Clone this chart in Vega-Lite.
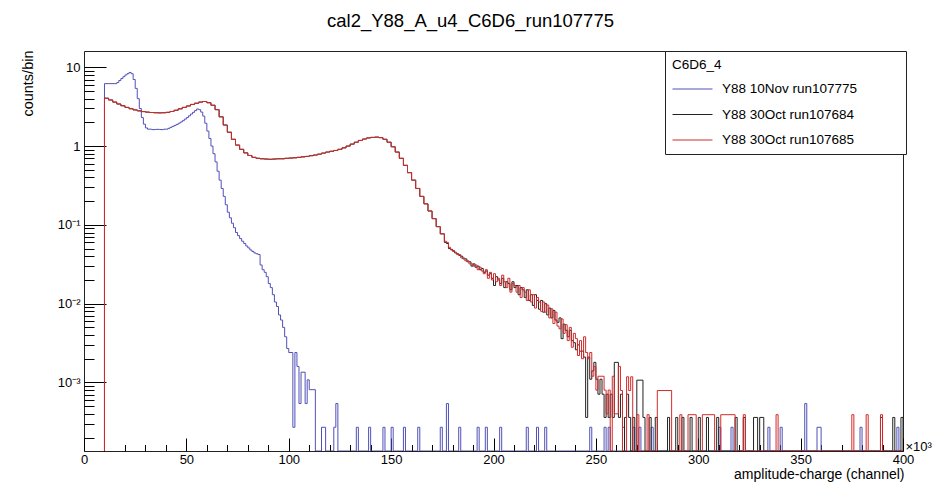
{
 "$schema": "https://vega.github.io/schema/vega-lite/v6.json",
 "width": 819, "height": 400,
 "autosize": {"type": "none"},
 "padding": {"left": 84, "top": 51, "right": 38, "bottom": 36},
 "background": "white",
 "title": {"text": "cal2_Y88_A_u4_C6D6_run107775", "fontSize": 18.5, "font": "Liberation Sans", "fontWeight": "normal", "anchor": "middle", "dx": -23, "offset": 20, "color": "#000"},
 "config": {
  "view": {"stroke": "#222", "strokeWidth": 1},
  "font": "Liberation Sans",
  "axis": {"grid": false, "domain": false, "labelFont": "Liberation Sans", "titleFont": "Liberation Sans", "labelColor": "#000", "titleColor": "#000", "tickColor": "#000", "titleFontWeight": "normal"}
 },
 "datasets": {
  "blue": [
   {"x":10,"y":0},{"x":10,"y":6.2},{"x":16,"y":6.4},{"x":17,"y":6.8},{"x":18,"y":7.2},{"x":19,"y":7.6},{"x":20,"y":8.0},{"x":21,"y":8.3},{"x":22,"y":8.6},{"x":23,"y":8.3},{"x":24,"y":7.0},{"x":25,"y":5.4},{"x":26,"y":4.0},{"x":27,"y":3.0},{"x":28,"y":2.3},{"x":29,"y":1.9},{"x":30,"y":1.7},{"x":31,"y":1.64},{"x":33,"y":1.62},{"x":35,"y":1.63},{"x":37,"y":1.62},{"x":39,"y":1.64},{"x":41,"y":1.68},{"x":42,"y":1.73},{"x":43,"y":1.78},{"x":44,"y":1.83},{"x":45,"y":1.88},{"x":46,"y":1.95},{"x":47,"y":2.02},{"x":48,"y":2.1},{"x":49,"y":2.2},{"x":50,"y":2.3},{"x":51,"y":2.42},{"x":52,"y":2.55},{"x":53,"y":2.68},{"x":54,"y":2.82},{"x":55,"y":2.96},{"x":56,"y":2.9},{"x":57,"y":2.7},{"x":58,"y":2.4},{"x":59,"y":1.95},{"x":60,"y":1.55},{"x":61,"y":1.25},{"x":62,"y":1.0},{"x":63,"y":0.8},{"x":64,"y":0.63},{"x":65,"y":0.48},{"x":66,"y":0.37},{"x":67,"y":0.29},{"x":68,"y":0.23},{"x":69,"y":0.18},{"x":70,"y":0.145},{"x":71,"y":0.123},{"x":72,"y":0.105},{"x":73,"y":0.092},{"x":74,"y":0.08},{"x":75,"y":0.073},{"x":76,"y":0.067},{"x":77,"y":0.062},{"x":78,"y":0.058},{"x":79,"y":0.054},{"x":80,"y":0.051},{"x":81,"y":0.048},{"x":82,"y":0.046},{"x":83,"y":0.044},{"x":84,"y":0.043},{"x":85,"y":0.042},{"x":86,"y":0.031},{"x":87,"y":0.027},{"x":88,"y":0.025},{"x":89,"y":0.022},{"x":90,"y":0.018},{"x":91,"y":0.016},{"x":92,"y":0.013},{"x":93,"y":0.0105},{"x":94,"y":0.0092},{"x":95,"y":0.0072},{"x":96,"y":0.0062},{"x":97,"y":0.005},{"x":98,"y":0.0038},{"x":99,"y":0.0027},{"x":100,"y":0.0024},{"x":102,"y":0.00027},{"x":103,"y":0.0024},{"x":104,"y":0.0016},{"x":105,"y":0.00054},{"x":106,"y":0.00135},{"x":108,"y":0.00054},{"x":109,"y":0.00108},{"x":110,"y":0.00081},{"x":113,"y":0},{"x":116,"y":0.00027},{"x":118,"y":0},{"x":122,"y":0.00027},{"x":123,"y":0.00054},{"x":124,"y":0},{"x":133,"y":0.00027},{"x":134,"y":0},{"x":139,"y":0.00027},{"x":140,"y":0},{"x":146,"y":0.00027},{"x":147,"y":0},{"x":150,"y":0.00027},{"x":151,"y":0},{"x":156,"y":0.00027},{"x":157,"y":0},{"x":163,"y":0.00027},{"x":164,"y":0},{"x":174,"y":0.00027},{"x":175,"y":0},{"x":177,"y":0.00054},{"x":178,"y":0},{"x":183,"y":0.00027},{"x":184,"y":0},{"x":192,"y":0.00027},{"x":193,"y":0},{"x":196,"y":0.00027},{"x":197,"y":0},{"x":203,"y":0.00027},{"x":204,"y":0},{"x":216,"y":0.00027},{"x":217,"y":0},{"x":221,"y":0.00027},{"x":222,"y":0},{"x":225,"y":0.00027},{"x":226,"y":0},{"x":247,"y":0.00027},{"x":248,"y":0},{"x":254,"y":0.00027},{"x":255,"y":0},{"x":256,"y":0.00027},{"x":257,"y":0},{"x":263,"y":0.00027},{"x":264,"y":0},{"x":268,"y":0.00027},{"x":269,"y":0},{"x":271,"y":0.00027},{"x":272,"y":0},{"x":277,"y":0.00027},{"x":278,"y":0},{"x":310,"y":0.00027},{"x":311,"y":0},{"x":316,"y":0.00027},{"x":317,"y":0},{"x":334,"y":0.00027},{"x":335,"y":0},{"x":340,"y":0.00027},{"x":341,"y":0},{"x":352,"y":0.00054},{"x":353,"y":0},{"x":358,"y":0.00027},{"x":360,"y":0},{"x":379,"y":0.00027},{"x":380,"y":0},{"x":397,"y":0.00027},{"x":398,"y":0},{"x":400,"y":0}
  ],
  "black": [
   {"x":10,"y":0},{"x":10,"y":4.05},{"x":12,"y":3.85},{"x":14,"y":3.62},{"x":16,"y":3.42},{"x":18,"y":3.25},{"x":20,"y":3.1},{"x":22,"y":2.98},{"x":24,"y":2.88},{"x":26,"y":2.8},{"x":28,"y":2.74},{"x":30,"y":2.7},{"x":32,"y":2.67},{"x":34,"y":2.65},{"x":36,"y":2.64},{"x":38,"y":2.65},{"x":40,"y":2.68},{"x":42,"y":2.75},{"x":44,"y":2.85},{"x":46,"y":2.97},{"x":48,"y":3.1},{"x":50,"y":3.23},{"x":52,"y":3.38},{"x":54,"y":3.5},{"x":56,"y":3.62},{"x":58,"y":3.68},{"x":60,"y":3.55},{"x":62,"y":3.3},{"x":64,"y":2.9},{"x":66,"y":2.35},{"x":68,"y":1.85},{"x":70,"y":1.5},{"x":72,"y":1.22},{"x":74,"y":1.03},{"x":76,"y":0.91},{"x":78,"y":0.82},{"x":80,"y":0.76},{"x":82,"y":0.72},{"x":84,"y":0.7},{"x":86,"y":0.69},{"x":88,"y":0.685},{"x":90,"y":0.68},{"x":92,"y":0.685},{"x":94,"y":0.69},{"x":96,"y":0.69},{"x":98,"y":0.7},{"x":100,"y":0.705},{"x":102,"y":0.71},{"x":104,"y":0.72},{"x":106,"y":0.73},{"x":108,"y":0.74},{"x":110,"y":0.755},{"x":112,"y":0.77},{"x":114,"y":0.79},{"x":116,"y":0.815},{"x":118,"y":0.84},{"x":120,"y":0.86},{"x":122,"y":0.88},{"x":124,"y":0.91},{"x":126,"y":0.95},{"x":128,"y":1.0},{"x":130,"y":1.06},{"x":132,"y":1.12},{"x":134,"y":1.18},{"x":136,"y":1.23},{"x":138,"y":1.27},{"x":140,"y":1.29},{"x":142,"y":1.3},{"x":144,"y":1.28},{"x":146,"y":1.22},{"x":148,"y":1.12},{"x":150,"y":0.98},{"x":152,"y":0.84},{"x":154,"y":0.7},{"x":156,"y":0.57},{"x":158,"y":0.46},{"x":160,"y":0.37},{"x":162,"y":0.29},{"x":164,"y":0.23},{"x":166,"y":0.185},{"x":168,"y":0.15},{"x":170,"y":0.12},{"x":172,"y":0.095},{"x":174,"y":0.077},
   {"x":176,"y":0.060},{"x":177,"y":0.058},{"x":178,"y":0.050},{"x":179,"y":0.049},{"x":180,"y":0.047},{"x":181,"y":0.044},{"x":182,"y":0.043},{"x":183,"y":0.041},{"x":184,"y":0.040},{"x":185,"y":0.037},{"x":186,"y":0.037},{"x":187,"y":0.034},{"x":188,"y":0.034},{"x":189,"y":0.030},{"x":190,"y":0.032},{"x":191,"y":0.029},{"x":192,"y":0.030},{"x":193,"y":0.027},{"x":194,"y":0.028},{"x":195,"y":0.025},{"x":196,"y":0.026},{"x":197,"y":0.023},{"x":198,"y":0.024},{"x":199,"y":0.021},{"x":200,"y":0.017},{"x":201,"y":0.022},{"x":202,"y":0.020},{"x":203,"y":0.018},{"x":204,"y":0.021},{"x":205,"y":0.016},{"x":206,"y":0.019},{"x":207,"y":0.018},{"x":208,"y":0.015},{"x":209,"y":0.019},{"x":210,"y":0.016},{"x":211,"y":0.017},{"x":212,"y":0.013},{"x":213,"y":0.016},{"x":214,"y":0.015},{"x":215,"y":0.012},{"x":216,"y":0.015},{"x":217,"y":0.011},{"x":218,"y":0.013},{"x":219,"y":0.0095},{"x":220,"y":0.013},{"x":221,"y":0.011},{"x":222,"y":0.0085},{"x":223,"y":0.011},{"x":224,"y":0.0078},{"x":225,"y":0.010},{"x":226,"y":0.0072},{"x":227,"y":0.0088},{"x":228,"y":0.0066},{"x":229,"y":0.0082},{"x":230,"y":0.0062},{"x":231,"y":0.0058},{"x":232,"y":0.0066},{"x":233,"y":0.0036},{"x":234,"y":0.0055},{"x":235,"y":0.0046},{"x":236,"y":0.0038},{"x":237,"y":0.0046},{"x":238,"y":0.0034},{"x":239,"y":0.0032},{"x":240,"y":0.0026},{"x":241,"y":0.0030},{"x":242,"y":0.0025},{"x":243,"y":0.0025},{"x":244,"y":0.0021},{"x":245,"y":0.00036},{"x":246,"y":0.0021},{"x":247,"y":0.0011},{"x":248,"y":0.0014},{"x":249,"y":0.0018},{"x":250,"y":0.0011},{"x":251,"y":0.00071},{"x":252,"y":0.0011},{"x":253,"y":0.00071},{"x":254,"y":0.00036},{"x":255,"y":0.00071},{"x":256,"y":0.00036},{"x":257,"y":0.00071},{"x":258,"y":0.00036},{"x":259,"y":0.0018},{"x":261,"y":0.00036},{"x":262,"y":0.00071},{"x":263,"y":0},{"x":264,"y":0.00036},{"x":265,"y":0.00071},{"x":266,"y":0.00036},{"x":267,"y":0},{"x":268,"y":0.00036},{"x":269,"y":0},{"x":270,"y":0.00107},{"x":273,"y":0.00036},{"x":274,"y":0},{"x":276,"y":0.00036},{"x":277,"y":0},{"x":279,"y":0.00036},{"x":280,"y":0},{"x":285,"y":0.00036},{"x":286,"y":0},{"x":289,"y":0.00036},{"x":290,"y":0},{"x":292,"y":0.00036},{"x":293,"y":0},{"x":296,"y":0.00036},{"x":297,"y":0},{"x":300,"y":0.00036},{"x":301,"y":0},{"x":304,"y":0.00036},{"x":305,"y":0},{"x":309,"y":0.00036},{"x":310,"y":0},{"x":318,"y":0.00036},{"x":319,"y":0},{"x":322,"y":0.00036},{"x":323,"y":0},{"x":327,"y":0.00036},{"x":329,"y":0},{"x":330,"y":0.00036},{"x":332,"y":0},{"x":389,"y":0.00036},{"x":390,"y":0},{"x":395,"y":0.00036},{"x":396,"y":0},{"x":399,"y":0.00036},{"x":400,"y":0}
  ],
  "red": [
   {"x":10,"y":0},{"x":10,"y":4.05},{"x":12,"y":3.85},{"x":14,"y":3.62},{"x":16,"y":3.42},{"x":18,"y":3.25},{"x":20,"y":3.1},{"x":22,"y":2.98},{"x":24,"y":2.88},{"x":26,"y":2.8},{"x":28,"y":2.74},{"x":30,"y":2.7},{"x":32,"y":2.67},{"x":34,"y":2.65},{"x":36,"y":2.64},{"x":38,"y":2.65},{"x":40,"y":2.68},{"x":42,"y":2.75},{"x":44,"y":2.85},{"x":46,"y":2.97},{"x":48,"y":3.1},{"x":50,"y":3.23},{"x":52,"y":3.38},{"x":54,"y":3.5},{"x":56,"y":3.62},{"x":58,"y":3.68},{"x":60,"y":3.55},{"x":62,"y":3.3},{"x":64,"y":2.9},{"x":66,"y":2.35},{"x":68,"y":1.85},{"x":70,"y":1.5},{"x":72,"y":1.22},{"x":74,"y":1.03},{"x":76,"y":0.91},{"x":78,"y":0.82},{"x":80,"y":0.76},{"x":82,"y":0.72},{"x":84,"y":0.7},{"x":86,"y":0.69},{"x":88,"y":0.685},{"x":90,"y":0.68},{"x":92,"y":0.685},{"x":94,"y":0.69},{"x":96,"y":0.69},{"x":98,"y":0.7},{"x":100,"y":0.705},{"x":102,"y":0.71},{"x":104,"y":0.72},{"x":106,"y":0.73},{"x":108,"y":0.74},{"x":110,"y":0.755},{"x":112,"y":0.77},{"x":114,"y":0.79},{"x":116,"y":0.815},{"x":118,"y":0.84},{"x":120,"y":0.86},{"x":122,"y":0.88},{"x":124,"y":0.91},{"x":126,"y":0.95},{"x":128,"y":1.0},{"x":130,"y":1.06},{"x":132,"y":1.12},{"x":134,"y":1.18},{"x":136,"y":1.23},{"x":138,"y":1.27},{"x":140,"y":1.29},{"x":142,"y":1.3},{"x":144,"y":1.28},{"x":146,"y":1.22},{"x":148,"y":1.12},{"x":150,"y":0.98},{"x":152,"y":0.84},{"x":154,"y":0.7},{"x":156,"y":0.57},{"x":158,"y":0.46},{"x":160,"y":0.37},{"x":162,"y":0.29},{"x":164,"y":0.23},{"x":166,"y":0.185},{"x":168,"y":0.15},{"x":170,"y":0.12},{"x":172,"y":0.095},{"x":174,"y":0.077},
   {"x":176,"y":0.062},{"x":177,"y":0.060},{"x":178,"y":0.052},{"x":179,"y":0.048},{"x":180,"y":0.046},{"x":181,"y":0.045},{"x":182,"y":0.042},{"x":183,"y":0.042},{"x":184,"y":0.038},{"x":185,"y":0.038},{"x":186,"y":0.035},{"x":187,"y":0.035},{"x":188,"y":0.032},{"x":189,"y":0.032},{"x":190,"y":0.030},{"x":191,"y":0.031},{"x":192,"y":0.027},{"x":193,"y":0.029},{"x":194,"y":0.026},{"x":195,"y":0.024},{"x":196,"y":0.027},{"x":197,"y":0.021},{"x":198,"y":0.025},{"x":199,"y":0.020},{"x":200,"y":0.024},{"x":201,"y":0.019},{"x":202,"y":0.021},{"x":203,"y":0.017},{"x":204,"y":0.023},{"x":205,"y":0.019},{"x":206,"y":0.016},{"x":207,"y":0.021},{"x":208,"y":0.014},{"x":209,"y":0.018},{"x":210,"y":0.017},{"x":211,"y":0.014},{"x":212,"y":0.017},{"x":213,"y":0.012},{"x":214,"y":0.016},{"x":215,"y":0.014},{"x":216,"y":0.011},{"x":217,"y":0.015},{"x":218,"y":0.0105},{"x":219,"y":0.0130},{"x":220,"y":0.0088},{"x":221,"y":0.012},{"x":222,"y":0.0105},{"x":223,"y":0.0080},{"x":224,"y":0.0105},{"x":225,"y":0.0078},{"x":226,"y":0.0096},{"x":227,"y":0.0066},{"x":228,"y":0.0086},{"x":229,"y":0.0056},{"x":230,"y":0.0078},{"x":231,"y":0.0052},{"x":232,"y":0.0048},{"x":233,"y":0.0064},{"x":234,"y":0.0042},{"x":235,"y":0.0054},{"x":236,"y":0.0034},{"x":237,"y":0.0050},{"x":238,"y":0.0028},{"x":239,"y":0.0042},{"x":240,"y":0.0036},{"x":241,"y":0.0022},{"x":242,"y":0.0034},{"x":243,"y":0.0020},{"x":244,"y":0.0038},{"x":245,"y":0.0024},{"x":246,"y":0.0020},{"x":247,"y":0.0024},{"x":248,"y":0.0012},{"x":249,"y":0.0016},{"x":250,"y":0.0008},{"x":251,"y":0.0012},{"x":254,"y":0.0008},{"x":255,"y":0.0004},{"x":256,"y":0.0008},{"x":257,"y":0},{"x":258,"y":0.0012},{"x":259,"y":0.0004},{"x":261,"y":0.0016},{"x":262,"y":0.00079},{"x":263,"y":0},{"x":265,"y":0.00118},{"x":266,"y":0.00079},{"x":267,"y":0.00118},{"x":268,"y":0},{"x":270,"y":0.00039},{"x":271,"y":0},{"x":275,"y":0.00039},{"x":276,"y":0},{"x":280,"y":0.00079},{"x":287,"y":0},{"x":291,"y":0.00039},{"x":292,"y":0},{"x":295,"y":0.00039},{"x":299,"y":0},{"x":302,"y":0.00039},{"x":308,"y":0},{"x":311,"y":0.00039},{"x":318,"y":0},{"x":322,"y":0.00039},{"x":323,"y":0},{"x":338,"y":0.00039},{"x":339,"y":0},{"x":375,"y":0.00039},{"x":376,"y":0},{"x":382,"y":0.00039},{"x":383,"y":0},{"x":389,"y":0.00039},{"x":390,"y":0},{"x":400,"y":0}
  ]
 },
 "layer": [
  {
   "data": {"name": "blue"},
   "mark": {"type": "line", "interpolate": "step-after", "strokeWidth": 1, "clip": true, "invalid": "show"},
   "encoding": {
    "x": {"field": "x", "type": "quantitative", "scale": {"domain": [0, 400], "nice": false, "zero": false},
      "axis": {"orient": "bottom", "values": [0,50,100,150,200,250,300,350,400], "ticks": false, "labelFontSize": 13, "labelPadding": 8.5, "labelBaseline": "middle", "labelFlush": false, "labelOverlap": false,
        "title": "amplitude-charge (channel)", "titleFontSize": 14, "titleX": 820, "titleY": 23.5, "titleAlign": "right", "titleBaseline": "middle"}},
    "y": {"field": "y", "type": "quantitative", "scale": {"type": "log", "domain": [0.000135, 16.1], "nice": false, "clamp": true},
      "axis": {"orient": "left", "values": [0.001, 0.01, 0.1, 1, 10], "ticks": false, "labelFontSize": 13, "labelPadding": 4, "labelAlign": "right", "labelBaseline": "middle", "labelFlush": false, "labelOverlap": false,
        "labelExpr": "datum.value > 5 ? '10' : datum.value > 0.5 ? '1' : datum.value > 0.05 ? '10⁻¹' : datum.value > 0.005 ? '10⁻²' : '10⁻³'",
        "title": "counts/bin", "titleFontSize": 14.5, "titleAngle": -90, "titleX": -56, "titleY": -1, "titleAlign": "right", "titleBaseline": "middle"}},
    "color": {"datum": "Y88 10Nov run107775", "type": "nominal",
      "scale": {"domain": ["Y88 10Nov run107775", "Y88 30Oct run107684", "Y88 30Oct run107685"], "range": ["#5050b8", "#222222", "#d42a2a"]},
      "legend": {"orient": "none", "legendX": 581, "legendY": 0, "title": "C6D6_4", "titleFontSize": 13.5, "titleFontWeight": "normal", "titleFont": "Liberation Sans", "titleColor": "#000", "titlePadding": 11,
        "labelFontSize": 13.5, "labelFont": "Liberation Sans", "labelColor": "#000", "symbolType": "stroke", "symbolSize": 1600, "symbolStrokeWidth": 1, "clipHeight": 13, "rowPadding": 11.5, "labelOffset": 9, "padding": 7,
        "strokeColor": "#222", "fillColor": "white", "labelLimit": 400,
        "labelExpr": "datum.label + '\u00a0\u00a0\u00a0\u00a0\u00a0\u00a0\u00a0\u00a0\u00a0\u00a0\u00a0\u200b'"}},
    "order": {"value": null}
   }
  },
  {
   "data": {"name": "black"},
   "mark": {"type": "line", "interpolate": "step-after", "strokeWidth": 1, "clip": true, "invalid": "show"},
   "encoding": {
    "x": {"field": "x", "type": "quantitative",
      "axis": {"orient": "bottom", "values": [0,50,100,150,200,250,300,350,400], "labels": false, "tickSize": -13, "tickWidth": 1, "title": null}},
    "y": {"field": "y", "type": "quantitative",
      "axis": {"orient": "left", "values": [0.001, 0.01, 0.1, 1, 10], "labels": false, "tickSize": -22, "tickWidth": 1, "title": null}},
    "color": {"datum": "Y88 30Oct run107684", "type": "nominal"},
    "order": {"value": null}
   }
  },
  {
   "data": {"name": "red"},
   "mark": {"type": "line", "interpolate": "step-after", "strokeWidth": 1, "clip": true, "invalid": "show"},
   "encoding": {
    "x": {"field": "x", "type": "quantitative",
      "axis": {"orient": "bottom", "values": [10,20,30,40,60,70,80,90,110,120,130,140,160,170,180,190,210,220,230,240,260,270,280,290,310,320,330,340,360,370,380,390], "labels": false, "tickSize": -6.5, "tickWidth": 1,
        "title": "×10³", "titleFontSize": 13, "titleX": 821, "titleY": -5, "titleAlign": "left", "titleBaseline": "middle"}},
    "y": {"field": "y", "type": "quantitative",
      "axis": {"orient": "left", "values": [0.0002,0.0003,0.0004,0.0005,0.0006,0.0007,0.0008,0.0009,0.002,0.003,0.004,0.005,0.006,0.007,0.008,0.009,0.02,0.03,0.04,0.05,0.06,0.07,0.08,0.09,0.2,0.3,0.4,0.5,0.6,0.7,0.8,0.9,2,3,4,5,6,7,8,9], "labels": false, "tickSize": -10, "tickWidth": 1, "title": null}},
    "color": {"datum": "Y88 30Oct run107685", "type": "nominal"},
    "order": {"value": null}
   }
  }
 ],
 "resolve": {"axis": {"x": "independent", "y": "independent"}}
}
